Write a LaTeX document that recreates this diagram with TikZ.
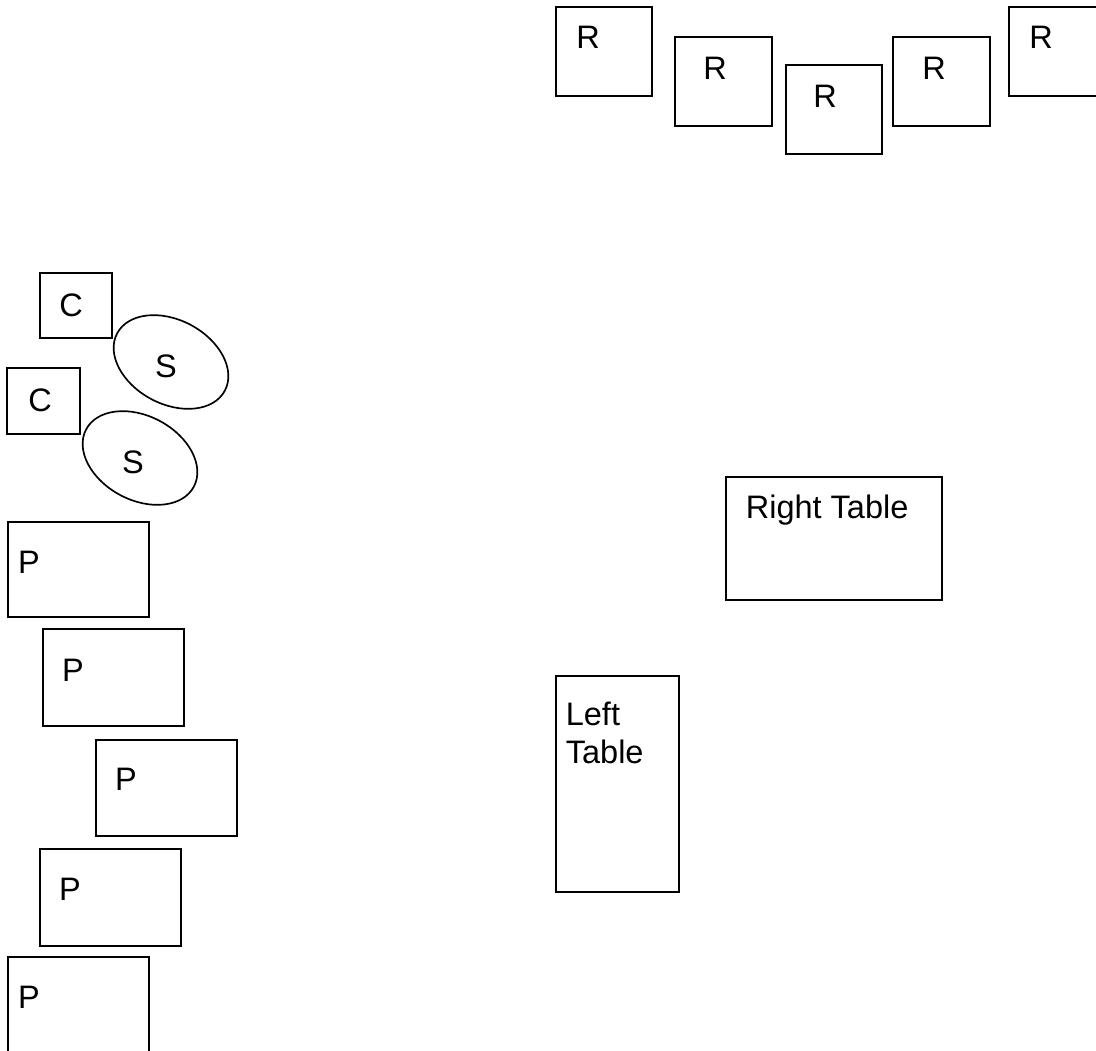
\documentclass[tikz,border=0pt]{standalone}
\usepackage{fontspec}
\setmainfont{Liberation Sans}
\usepackage{tikz}

\begin{document}
\begin{tikzpicture}[x=0.02cm, y=-0.02cm, line width=0.95pt,
    lbl/.style={inner sep=0pt, font=\fontsize{18.5}{21.8}\selectfont}]
    \useasboundingbox (0,0) rectangle (1096,1051);
    \clip (0,0) rectangle (1096,1051);

    % Boxes along the top
    \draw (556,7) rectangle (652,96);
    \node[lbl] (r1) at (588,37) {R};
    \draw (675,37) rectangle (772,126);
    \node[lbl] (r2) at (715,68) {R};
    \draw (786,65) rectangle (882,154);
    \node[lbl] (r3) at (825,96) {R};
    \draw (893,37) rectangle (990,126);
    \node[lbl] (r4) at (934,68) {R};
    \draw (1009,7) rectangle (1106,96);
    \node[lbl] (r5) at (1041,37) {R};

    % C and S
    \draw (40,273) rectangle (112,338);
    \node[lbl] (c1) at (71,305) {C};
    \draw[rotate around={-28:(171,362)}] (171,362) ellipse [x radius=61, y radius=42];
    \node[lbl] (s1) at (166,366) {S};
    \draw (7,368) rectangle (80,434);
    \node[lbl] (c2) at (40,400) {C};
    \draw[rotate around={-28:(140,458)}] (140,458) ellipse [x radius=61, y radius=42];
    \node[lbl] (s2) at (133,462) {S};

    % P boxes
    \draw (8,522) rectangle (149,617);
    \node[lbl] (p1) at (29,562) {P};
    \draw (43,629) rectangle (184,726);
    \node[lbl] (p2) at (73,670) {P};
    \draw (96,740) rectangle (237,836);
    \node[lbl] (p3) at (126,779) {P};
    \draw (40,849) rectangle (181,946);
    \node[lbl] (p4) at (70,889) {P};
    \draw (8,957) rectangle (149,1060);
    \node[lbl] (p5) at (29,997) {P};

    % Tables
    \draw (726,477) rectangle (942,600);
    \node[lbl, anchor=base west] (rtable) at (745,518) {Right Table};
    \draw (556,676) rectangle (679,892);
    \node[lbl, anchor=north west, align=left] (ltable) at (565,701) {Left\\Table};
\end{tikzpicture}
\end{document}
